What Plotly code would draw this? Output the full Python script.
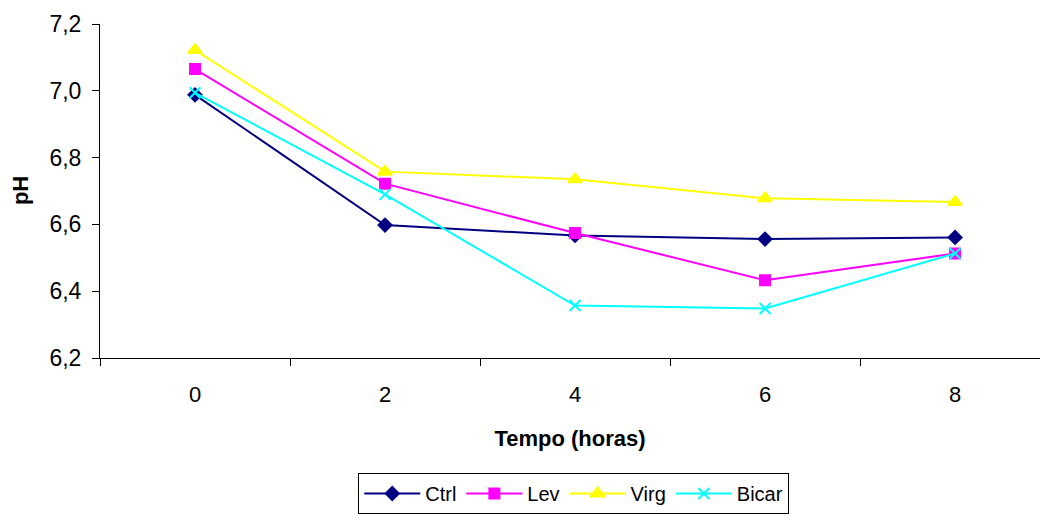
import plotly.graph_objects as go

tempo = ["0", "2", "4", "6", "8"]
ctrl = [6.988, 6.598, 6.567, 6.556, 6.561]
lev = [7.065, 6.722, 6.574, 6.433, 6.513]
virg = [7.122, 6.758, 6.735, 6.678, 6.667]
bicar = [6.994, 6.690, 6.357, 6.348, 6.513]

series = [
    ("Ctrl", ctrl, "#000080", "diamond", 10),
    ("Lev", lev, "#FF00FF", "square", 10),
    ("Virg", virg, "#FFFF00", "triangle-up", 12),
    ("Bicar", bicar, "#00FFFF", "x-thin", 11),
]

fig = go.Figure()
for name, vals, col, sym, sz in series:
    fig.add_trace(go.Scatter(
        x=tempo, y=vals, name=name, mode="lines+markers",
        line=dict(color=col, width=2),
        marker=dict(symbol=sym, size=sz, color=col,
                    line=dict(color=col, width=2)),
    ))

font = "Liberation Sans, Arial, sans-serif"
fig.update_layout(
    width=1040, height=514,
    margin=dict(l=100, r=0, t=24, b=155),
    paper_bgcolor="white", plot_bgcolor="white",
    separators=",.",
    font=dict(family=font, size=21, color="black"),
    showlegend=True,
    legend=dict(orientation="h", x=0.504, xanchor="center", y=-0.345, yanchor="top",
                bordercolor="black", borderwidth=1, font=dict(size=20),
                itemwidth=56, tracegroupgap=0),
    annotations=[dict(text="<b>pH</b>", textangle=-90, xref="paper", yref="paper",
                      x=-0.085, y=0.5, xanchor="center", yanchor="middle",
                      showarrow=False, font=dict(size=22))],
)
fig.update_xaxes(
    type="category", range=[-0.5, 4.447],
    showline=True, linecolor="black", linewidth=1,
    ticks="outside", tickson="boundaries", ticklen=7, tickcolor="black",
    showgrid=False, zeroline=False,
    tickfont=dict(size=22), ticklabelstandoff=17,
    title=dict(text="<b>Tempo (horas)</b>", font=dict(size=22), standoff=24),
)
fig.update_yaxes(
    range=[6.2, 7.2], dtick=0.2, tick0=6.2, tickformat=".1f",
    showline=True, linecolor="black", linewidth=1,
    ticks="outside", ticklen=7, tickcolor="black",
    showgrid=False, zeroline=False,
    tickfont=dict(size=23), ticklabelstandoff=6,
)

fig.write_html("out.html")
